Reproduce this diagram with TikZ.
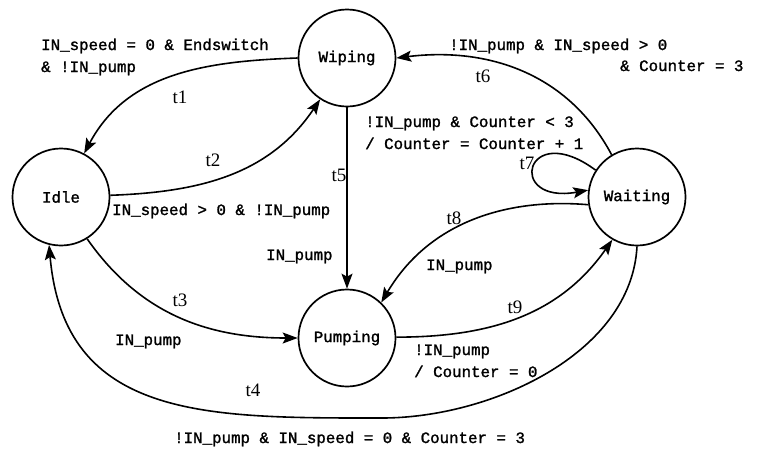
\documentclass[tikz,border=0pt]{standalone}
\usepackage{fontspec}
\setmainfont{Liberation Serif}
\newfontfamily\courfont[FakeBold=1.5]{Liberation Mono}
\usetikzlibrary{arrows.meta}

\tikzset{
  state/.style={circle, draw, line width=1.7pt, minimum size=97pt, inner sep=0pt,
                font=\courfont\fontsize{15.8}{22}\selectfont},
  arr/.style={line width=1.6pt, -{Stealth[length=15pt,width=11pt,inset=3pt]}},
  guard/.style={anchor=base west, inner sep=0pt,
                font=\courfont\fontsize{15.8}{22}\selectfont},
  tlabel/.style={inner sep=0pt, font=\fontsize{19}{22}\selectfont}
}

\begin{document}
\begin{tikzpicture}[x=1pt, y=1pt]
  \useasboundingbox (0,0) rectangle (759,-453);

  % states
  \node[state] (W)  at (347,-58)  {Wiping};
  \node[state] (I)  at (61,-197)  {Idle};
  \node[state] (P)  at (347,-338) {Pumping};
  \node[state] (Wt) at (637,-197) {Waiting};

  % lowest point of the long return arc t4
  \coordinate (t4low) at (382,-418);

  % transitions
  \draw[arr] (W.180) to[out=182, in=62] (I.62);                        % t1
  \draw[arr] (I.2) to[out=2, in=236] (W.237);                          % t2
  \draw[arr] (I.-58) to[out=-55, in=180] (P.180);                      % t3
  \draw[arr] (Wt.270) to[out=-93, in=0, looseness=0.9] (t4low)
             to[out=180, in=-85, looseness=1.2] (I.256);               % t4
  \draw[arr] (W) -- (P);                                               % t5
  \draw[arr] (Wt.121) to[out=118, in=7] (W.0);                         % t6
  \draw[arr] (Wt.147) .. controls (525,-118) and (505,-205) .. (Wt.172); % t7
  \draw[arr] (Wt.189) .. controls (510,-198) and (430,-220) .. (P.46); % t8
  \draw[arr] (P.1) to[out=0, in=235] (Wt.240);                         % t9

  % transition names
  \node[tlabel] (n1) at (180,-97)  {t1};
  \node[tlabel] (n2) at (213,-160) {t2};
  \node[tlabel] (n3) at (180,-300) {t3};
  \node[tlabel] (n4) at (253,-390) {t4};
  \node[tlabel] (n5) at (339,-175) {t5};
  \node[tlabel] (n6) at (483,-76)  {t6};
  \node[tlabel] (n7) at (527,-163) {t7};
  \node[tlabel] (n8) at (454,-218) {t8};
  \node[tlabel] (n9) at (515,-307) {t9};

  % guards and actions
  \node[guard] (g1) at (41,-50)
    {\begin{tabular}[t]{@{}l@{}}IN\_speed = 0 \& Endswitch\\ \& !IN\_pump\end{tabular}};
  \node[guard] (g2) at (112,-215) {IN\_speed > 0 \& !IN\_pump};
  \node[guard] (g3) at (115,-345) {IN\_pump};
  \node[guard] (g4) at (174,-443) {!IN\_pump \& IN\_speed = 0 \& Counter = 3};
  \node[guard] (g5) at (266,-260) {IN\_pump};
  \node[guard] (g6a) at (449,-50) {!IN\_pump \& IN\_speed > 0};
  \node[guard] (g6b) at (620,-71) {\& Counter = 3};
  \node[guard] (g7) at (365,-127)
    {\begin{tabular}[t]{@{}l@{}}!IN\_pump \& Counter < 3\\ / Counter = Counter + 1\end{tabular}};
  \node[guard] (g8) at (426,-270) {IN\_pump};
  \node[guard] (g9) at (414,-355)
    {\begin{tabular}[t]{@{}l@{}}!IN\_pump\\ / Counter = 0\end{tabular}};
\end{tikzpicture}
\end{document}
